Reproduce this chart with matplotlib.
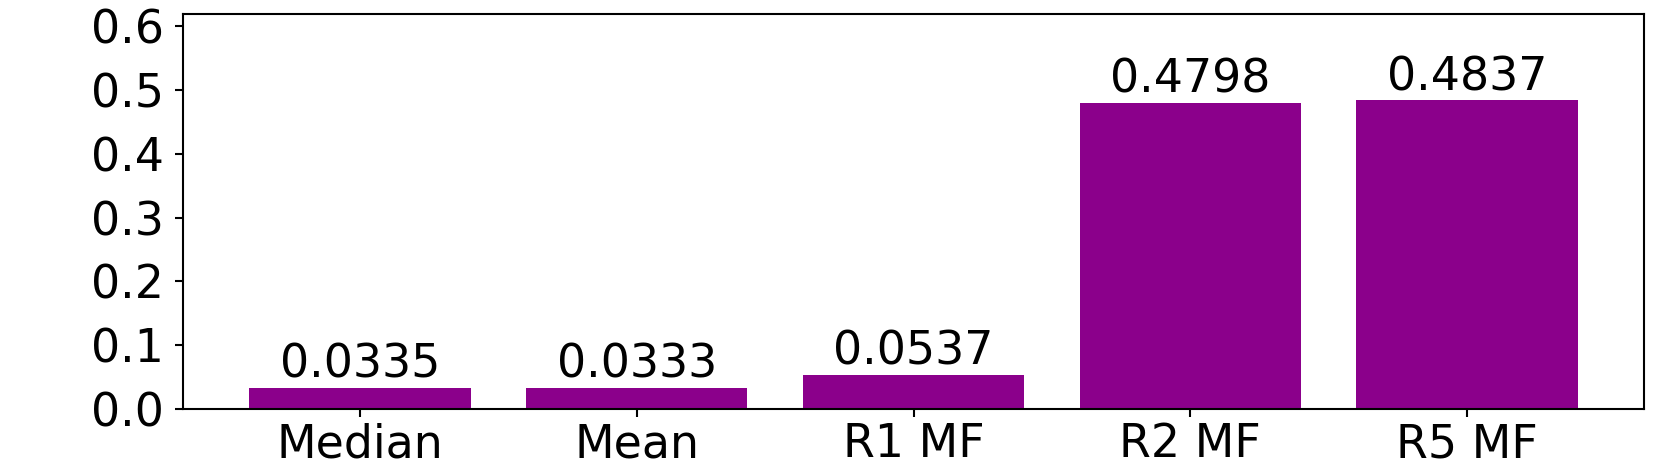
import matplotlib
matplotlib.use("Agg")
import matplotlib.pyplot as plt

categories = ["Median", "Mean", "R1 MF", "R2 MF", "R5 MF"]
values = [0.0335, 0.0333, 0.0537, 0.4798, 0.4837]
value_labels = ["0.0335", "0.0333", "0.0537", "0.4798", "0.4837"]

fig = plt.figure(figsize=(16.61, 4.65), dpi=100)
ax = fig.add_axes([183/1661, 1 - 409/465, (1644-183)/1661, (409-14)/465])
x = list(range(len(categories)))
bars = ax.bar(x, values, width=0.8, color="darkmagenta")
for xi, v, lab in zip(x, values, value_labels):
    ax.text(xi, v, lab, ha="center", va="bottom", fontsize=33)
ax.set_xticks(x)
ax.set_xticklabels(categories)
ax.set_ylim(0, max(values) * 1.28)
ax.set_yticks([0.0, 0.1, 0.2, 0.3, 0.4, 0.5, 0.6])
ax.tick_params(labelsize=33, width=1.5, length=6)
ax.tick_params(axis="y", pad=8)
for s in ax.spines.values():
    s.set_linewidth(1.5)
fig.savefig("out.png", dpi=100)
